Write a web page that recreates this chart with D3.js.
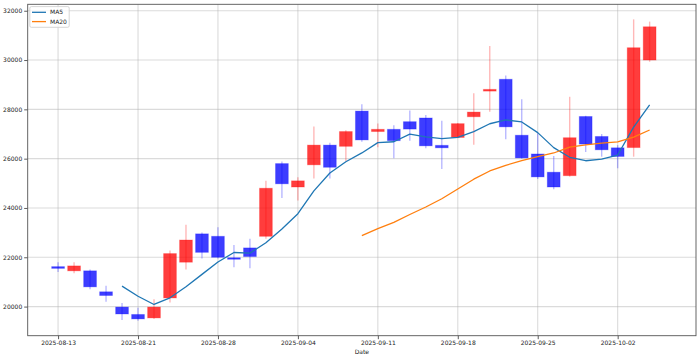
<!DOCTYPE html>
<html>
<head>
<meta charset="utf-8">
<script src="https://cdn.jsdelivr.net/npm/d3@7"></script>
<style>
  html, body { margin: 0; padding: 0; background: #fff; }
  svg { display: block; }
  text { font-family: "DejaVu Sans", sans-serif; }
</style>
</head>
<body>
<svg id="chart" width="700" height="359"></svg>
<script>
// ---- data ----
const dates = ["2025-08-13","2025-08-14","2025-08-18","2025-08-19","2025-08-20","2025-08-21","2025-08-22",
  "2025-08-25","2025-08-26","2025-08-27","2025-08-28","2025-08-29","2025-09-01","2025-09-02","2025-09-03",
  "2025-09-04","2025-09-05","2025-09-08","2025-09-09","2025-09-10","2025-09-11","2025-09-12","2025-09-15",
  "2025-09-16","2025-09-17","2025-09-18","2025-09-19","2025-09-22","2025-09-23","2025-09-24","2025-09-25",
  "2025-09-26","2025-09-29","2025-09-30","2025-10-01","2025-10-02","2025-10-10","2025-10-13"];
const opens  = [21620,21450,21450,20600,19980,19680,19540,20350,21800,22950,22850,21980,22380,22850,25800,
  24850,25750,26550,26500,27930,27100,27190,27500,27650,26540,26860,27700,28740,29220,26950,26190,25450,
  25310,27710,26900,26440,26450,30000];
const highs  = [21800,21800,21500,20850,20150,19950,20300,22270,23320,23000,23220,22500,22750,25100,25880,
  25250,27300,26650,27150,28210,27430,27360,27950,27770,27540,27450,28650,30570,29370,28410,27030,26110,
  28510,27740,27000,26550,31650,31560];
const lows   = [21400,21350,20700,20200,19460,19430,19500,20170,21500,21950,21950,21600,21550,22750,24400,
  24300,25200,25200,25900,26690,26460,26020,26730,26420,25580,26830,26560,27900,26790,26000,25170,24760,
  25270,26270,26080,25610,26080,29930];
const closes = [21550,21650,20800,20450,19700,19500,19980,22150,22700,22200,22000,21920,22030,24800,24980,
  25100,26550,25650,27100,26760,27190,26730,27200,26520,26440,27420,27890,28810,27290,26030,25260,24850,
  26850,26590,26360,26090,30500,31350];
// moving averages (MA5 from index 4, MA20 from index 19)
const ma5 = [null,null,null,null,20830,20420,20086,20356,20806,21306,21806,22194,22170,22590,23146,23766,
  24692,25416,25876,26232,26650,26686,26996,26880,26816,26862,27094,27416,27570,27488,27056,26448,26056,
  25916,25982,26148,27278,28178];
const ma20 = [null,null,null,null,null,null,null,null,null,null,null,null,null,null,null,null,null,null,null,
  22879,23161,23415,23735,24038,24375,24771,25167,25500,25729,25921,26084,26230,26471,26561,26630,26679,
  26877,27162];
const yTicks = [20000,22000,24000,26000,28000,30000,32000];
const xTickIdx = [0,5,10,15,20,25,30,35];
const seriesNames = ["MA5","MA20"];

// ---- layout ----
const svg = d3.select("#chart");
const L = 27.7, R = 696, T = 4.3, B = 335.7;
const n = dates.length;

const x = d3.scaleLinear().domain([-0.05 * n, n + 0.05 * n]).range([L, R]);
const lo = d3.min(lows), hi = d3.max(highs), pad = (hi - lo) * 0.05;
const y = d3.scaleLinear().domain([lo - pad, hi + pad]).range([B, T]);

// grid
const grid = svg.append("g");
grid.selectAll("line.gx").data(xTickIdx).join("line")
  .attr("x1", d => x(d)).attr("x2", d => x(d)).attr("y1", T).attr("y2", B)
  .attr("stroke", "#b0b0b0").attr("stroke-opacity", 0.45).attr("stroke-width", 1.1);
grid.selectAll("line.gy").data(yTicks).join("line")
  .attr("x1", L).attr("x2", R).attr("y1", d => y(d)).attr("y2", d => y(d))
  .attr("stroke", "#b0b0b0").attr("stroke-opacity", 0.45).attr("stroke-width", 1.1);

// candles
const idx = d3.range(n);
const col = i => closes[i] >= opens[i] ? "#ff0000" : "#0000ff";
const bw = x(0.4) - x(0);
svg.append("g").selectAll("line").data(idx).join("line")
  .attr("x1", i => x(i)).attr("x2", i => x(i))
  .attr("y1", i => y(highs[i])).attr("y2", i => y(lows[i]))
  .attr("stroke", col).attr("stroke-opacity", 0.28).attr("stroke-width", 1.4);
svg.append("g").selectAll("rect").data(idx).join("rect")
  .attr("x", i => x(i) - bw).attr("width", bw * 2)
  .attr("y", i => y(Math.max(opens[i], closes[i])))
  .attr("height", i => Math.max(1.5, Math.abs(y(opens[i]) - y(closes[i]))))
  .attr("fill", col).attr("fill-opacity", 0.76)
  .attr("stroke", col).attr("stroke-opacity", 0.25).attr("stroke-width", 1);

// MA lines
const lineGen = d3.line().defined(d => d[1] != null).x(d => x(d[0])).y(d => y(d[1]));
const colors = ["#1f77b4", "#ff7f0e"];
[ma5, ma20].forEach((s, k) => {
  svg.append("path").datum(s.map((v, i) => [i, v]))
    .attr("d", lineGen).attr("fill", "none")
    .attr("stroke", colors[k]).attr("stroke-width", 1.3).attr("stroke-linejoin", "round");
});

// axes
const yAxis = d3.axisLeft(y).tickValues(yTicks).tickSize(3.5).tickPadding(2).tickFormat(d3.format("d"));
const xAxis = d3.axisBottom(x).tickValues(xTickIdx).tickSize(3.5).tickPadding(2).tickFormat(i => dates[i]);
const gy = svg.append("g").attr("transform", `translate(${L},0)`).call(yAxis);
const gx = svg.append("g").attr("transform", `translate(0,${B})`).call(xAxis);
[gx, gy].forEach(g => {
  g.select(".domain").remove();
  g.selectAll(".tick line").attr("stroke", "#333").attr("stroke-width", 0.8);
  g.selectAll(".tick text").attr("fill", "#222").style("font-size", "6px")
    .style("font-family", "'DejaVu Sans', sans-serif");
});

// frame
svg.append("rect").attr("x", L).attr("y", T).attr("width", R - L).attr("height", B - T)
  .attr("fill", "none").attr("stroke", "#555").attr("stroke-width", 0.9);

// x label
svg.append("text").attr("x", (L + R) / 2).attr("y", 353.5).attr("text-anchor", "middle")
  .attr("fill", "#222").style("font-size", "6px").text("Date");

// legend
const lg = svg.append("g");
lg.append("rect").attr("x", 29.8).attr("y", 6.6).attr("width", 39.4).attr("height", 20.7)
  .attr("rx", 1.5).attr("fill", "#fff").attr("fill-opacity", 0.8)
  .attr("stroke", "#cccccc").attr("stroke-width", 0.8);
seriesNames.forEach((name, k) => {
  const yy = 12.3 + k * 9.3;
  lg.append("line").attr("x1", 32).attr("x2", 46).attr("y1", yy).attr("y2", yy)
    .attr("stroke", colors[k]).attr("stroke-width", 1.3);
  lg.append("text").attr("x", 50).attr("y", yy + 2.1).attr("fill", "#222")
    .style("font-size", "6px").text(name);
});
</script>
</body>
</html>
